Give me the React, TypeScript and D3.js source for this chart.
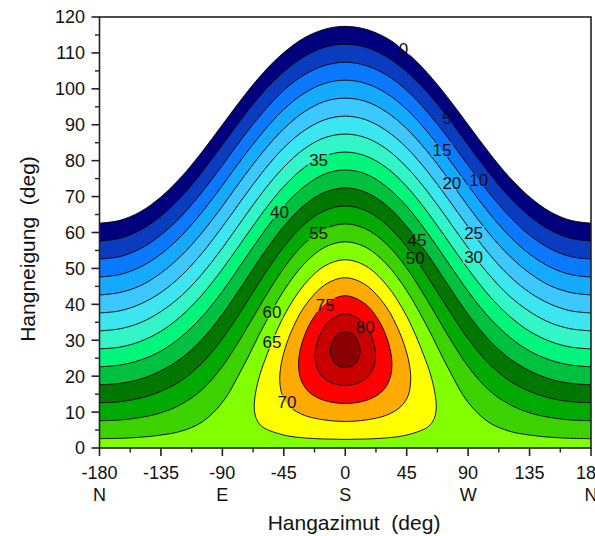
import React from "react";
import * as d3 from "d3";

// ---------- data ----------
// azimuth samples (deg), mirrored for negative azimuths
const azimuthHalf = [0, 15, 30, 45, 60, 75, 90, 105, 120, 135, 150, 165, 180];

// open contour levels and their slope (deg) at each azimuth sample
const openLevels = [0, 5, 10, 15, 20, 25, 30, 35, 40, 45, 50, 55, 60];
const openSlopes = [
  [117.4, 116.6, 114.2, 110.1, 104.5, 97.6, 90.0, 82.4, 75.5, 69.9, 65.8, 63.4, 62.6],
  [112.4, 111.6, 109.0, 104.8, 99.1, 92.1, 84.4, 76.8, 70.0, 64.6, 60.7, 58.4, 57.6],
  [107.4, 106.5, 103.9, 99.6, 93.6, 86.5, 78.7, 71.2, 64.6, 59.3, 55.5, 53.3, 52.6],
  [102.4, 101.5, 98.8, 94.3, 88.1, 80.9, 73.1, 65.6, 59.1, 54.0, 50.4, 48.3, 47.6],
  [97.4, 96.5, 93.6, 88.9, 82.6, 75.2, 67.3, 59.9, 53.6, 48.7, 45.2, 43.3, 42.6],
  [92.4, 91.4, 88.4, 83.6, 77.1, 69.5, 61.6, 54.2, 48.0, 43.3, 40.1, 38.2, 37.6],
  [87.4, 86.4, 83.3, 78.2, 71.5, 63.7, 55.7, 48.4, 42.4, 38.0, 34.9, 33.2, 32.6],
  [82.4, 81.3, 78.1, 72.8, 65.8, 57.8, 49.8, 42.6, 36.8, 32.5, 29.7, 28.1, 27.6],
  [77.4, 76.3, 72.8, 67.3, 60.0, 51.8, 43.6, 36.5, 31.0, 27.0, 24.5, 23.1, 22.6],
  [72.4, 71.2, 67.6, 61.7, 54.1, 45.5, 37.2, 30.2, 25.0, 21.5, 19.2, 18.0, 17.6],
  [67.4, 66.1, 62.3, 56.0, 47.9, 38.9, 30.4, 23.6, 18.8, 15.8, 13.9, 12.9, 12.6],
  [62.4, 61.0, 56.9, 50.1, 41.2, 31.5, 22.7, 16.2, 12.2, 9.8, 8.5, 7.8, 7.6],
  [57.4, 55.9, 51.3, 43.8, 33.8, 22.5, 12.7, 7.2, 4.7, 3.6, 3.0, 2.7, 2.6],
];

// closed contours around the maximum: azimuth, upper slope, lower slope
const loopLevels = [65, 70, 75, 80, 85];
const loopAz = [
  [0, 15, 30, 45, 60, 64, 66, 66.7],
  [0, 15, 30, 40, 45, 47, 48.0],
  [0, 15, 25, 30, 33, 34.2],
  [0, 10, 15, 20, 22.2],
  [0, 5, 8, 10.9],
];
const loopUpper = [
  [52.4, 50.7, 45.5, 36.7, 23.3, 18.3, 14.6, 11.6],
  [47.4, 45.4, 39.3, 32.0, 26.5, 23.2, 19.1],
  [42.4, 40.0, 35.2, 31.1, 27.3, 23.2],
  [37.4, 35.9, 33.9, 30.2, 25.6],
  [32.4, 31.8, 30.6, 27.0],
];
const loopLower = [
  [2.4, 2.5, 2.8, 3.6, 5.7, 7.3, 9.2, 11.6],
  [7.4, 7.8, 9.1, 11.3, 13.7, 15.8, 19.1],
  [12.4, 13.2, 15.1, 17.2, 19.7, 23.2],
  [17.4, 18.2, 19.3, 21.7, 25.6],
  [22.4, 22.9, 23.8, 27.0],
];

// band colours, band i covers [5i, 5i+5)
const bandColors = [
  "#00007f", "#0a3cc0", "#0a78ff", "#14aaff", "#3cc8ff", "#3ce6f0",
  "#32f5c8", "#00f57a", "#00c040", "#007800", "#00aa00", "#3cd200",
  "#82ff00", "#ffff00", "#ffaa00", "#ff0000", "#c80000", "#8b0000",
];

// contour labels
const labelText = ["0", "5", "10", "15", "20", "25", "30", "35", "40", "45", "50", "55", "60", "65", "70", "75", "80"];
const labelAz = [42.7, 74.5, 97.7, 70.8, 78.1, 94, 94, -19.5, -48.1, 52.5, 51.3, -19.5, -53.7, -53.7, -42.7, -14.7, 14.7];
const labelSlope = [111.0, 91.8, 74.6, 83.0, 73.7, 59.8, 53.3, 80.2, 65.8, 57.9, 52.8, 59.8, 37.9, 29.6, 12.9, 39.8, 33.8];

// axes
const xTicks = [-180, -135, -90, -45, 0, 45, 90, 135, 180];
const xMinor = [-157.5, -112.5, -67.5, -22.5, 22.5, 67.5, 112.5, 157.5];
const compassTicks = [-180, -90, 0, 90, 180];
const compassText = ["N", "E", "S", "W", "N"];
const yTicks = [0, 10, 20, 30, 40, 50, 60, 70, 80, 90, 100, 110, 120];
const yMinor = [5, 15, 25, 35, 45, 55, 65, 75, 85, 95, 105, 115];

const FONT = "'Liberation Sans', Arial, sans-serif";

export default function App() {
  const W = 595, H = 536;
  const left = 99.5, right = 591, top = 17, bottom = 448;
  const x = d3.scaleLinear().domain([-180, 180]).range([left, right]);
  const y = d3.scaleLinear().domain([0, 120]).range([bottom, top]);

  const fullAz = [...azimuthHalf.slice(1).reverse().map((a) => -a), ...azimuthHalf];
  const mirror = (vals: number[]) => [...vals.slice(1).reverse(), ...vals];

  const openPts = openSlopes.map((row) => {
    const v = mirror(row);
    return fullAz.map((a, i) => [a, v[i]] as [number, number]);
  });

  const area = d3
    .area<[number, number]>()
    .x((d) => x(d[0]))
    .y0(y(0))
    .y1((d) => y(d[1]))
    .curve(d3.curveCatmullRom.alpha(0.5));
  const line = d3
    .line<[number, number]>()
    .x((d) => x(d[0]))
    .y((d) => y(d[1]))
    .curve(d3.curveCatmullRom.alpha(0.5));
  const loopLine = d3
    .line<[number, number]>()
    .x((d) => x(d[0]))
    .y((d) => y(d[1]))
    .curve(d3.curveCatmullRomClosed.alpha(0.5));

  const loopPts = loopLevels.map((_, k) => {
    const az = loopAz[k], up = loopUpper[k], lo = loopLower[k];
    const n = az.length;
    const pts: [number, number][] = [];
    for (let i = n - 1; i >= 1; i--) pts.push([-az[i], up[i]]);
    pts.push([0, up[0]]);
    for (let i = 1; i < n; i++) pts.push([az[i], up[i]]);
    for (let i = n - 2; i >= 1; i--) pts.push([az[i], lo[i]]);
    pts.push([0, lo[0]]);
    for (let i = 1; i <= n - 2; i++) pts.push([-az[i], lo[i]]);
    return pts;
  });

  return (
    <svg
      width={W}
      height={H}
      style={{ position: "absolute", left: 0, top: 0, background: "#fff" }}
      fontFamily={FONT}
    >
      <defs>
        <clipPath id="plotClip">
          <rect x={left} y={top} width={right - left} height={bottom - top} />
        </clipPath>
        <mask id="labelGaps" maskUnits="userSpaceOnUse" x={0} y={0} width={W} height={H}>
          <rect x={0} y={0} width={W} height={H} fill="#fff" />
          {labelText.map((t, i) => (
            <rect
              key={i}
              x={x(labelAz[i]) - (t.length * 9.5 + 2) / 2}
              y={y(labelSlope[i]) - 7}
              width={t.length * 9.5 + 2}
              height={14}
              fill="#000"
            />
          ))}
        </mask>
      </defs>

      <g clipPath="url(#plotClip)">
        {openPts.map((pts, i) => (
          <path key={"a" + i} d={area(pts) || ""} fill={bandColors[openLevels[i] / 5]} />
        ))}
        {loopPts.map((pts, k) => (
          <path key={"l" + k} d={loopLine(pts) || ""} fill={bandColors[loopLevels[k] / 5]} />
        ))}
        <g mask="url(#labelGaps)" fill="none" stroke="#000" strokeWidth={0.9}>
          {openPts.map((pts, i) => (
            <path key={"s" + i} d={line(pts) || ""} />
          ))}
          {loopPts.map((pts, k) => (
            <path key={"ls" + k} d={loopLine(pts) || ""} />
          ))}
        </g>
        {labelText.map((t, i) => (
          <text
            key={"t" + i}
            x={x(labelAz[i])}
            y={y(labelSlope[i])}
            dy="0.36em"
            textAnchor="middle"
            fontSize={17}
            fill="#111"
          >
            {t}
          </text>
        ))}
      </g>

      {/* frame */}
      <rect x={left} y={top} width={right - left} height={bottom - top} fill="none" stroke="#222" strokeWidth={1.6} />

      {/* y axis ticks */}
      {yTicks.map((v) => (
        <g key={"yt" + v}>
          <line x1={left - 8} x2={left} y1={y(v)} y2={y(v)} stroke="#222" strokeWidth={1.6} />
          <text x={85} y={y(v)} dy="0.36em" textAnchor="end" fontSize={18} fill="#111">
            {v}
          </text>
        </g>
      ))}
      {yMinor.map((v) => (
        <line key={"ym" + v} x1={left - 4.5} x2={left} y1={y(v)} y2={y(v)} stroke="#222" strokeWidth={1.4} />
      ))}

      {/* x axis ticks */}
      {xTicks.map((v) => (
        <g key={"xt" + v}>
          <line x1={x(v)} x2={x(v)} y1={bottom} y2={bottom + 8} stroke="#222" strokeWidth={1.6} />
          <text x={x(v)} y={479.3} textAnchor="middle" fontSize={18} fill="#111">
            {v}
          </text>
        </g>
      ))}
      {xMinor.map((v) => (
        <line key={"xm" + v} x1={x(v)} x2={x(v)} y1={bottom} y2={bottom + 4.5} stroke="#222" strokeWidth={1.4} />
      ))}
      {compassTicks.map((v, i) => (
        <text key={"c" + i} x={x(v)} y={500.7} textAnchor="middle" fontSize={18} fill="#111">
          {compassText[i]}
        </text>
      ))}

      {/* axis titles */}
      <text x={354} y={529.5} textAnchor="middle" fontSize={21} fill="#111" style={{ whiteSpace: "pre" }}>
        {"Hangazimut  (deg)"}
      </text>
      <text
        transform="translate(35,249) rotate(-90)"
        textAnchor="middle"
        fontSize={21}
        fill="#111"
        style={{ whiteSpace: "pre" }}
      >
        {"Hangneigung  (deg)"}
      </text>
    </svg>
  );
}
